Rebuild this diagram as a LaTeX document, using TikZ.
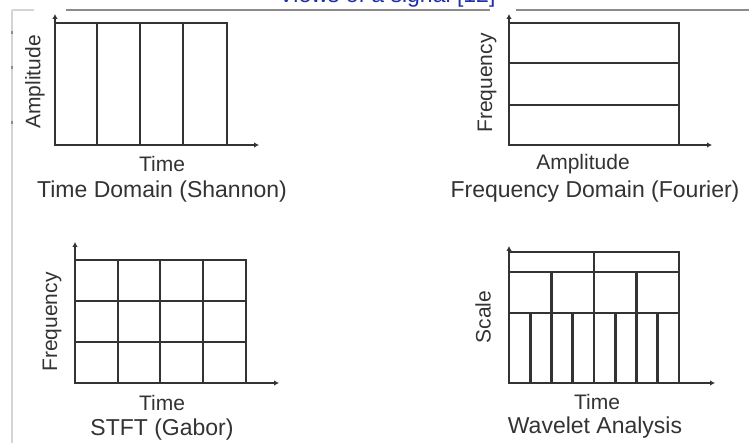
\documentclass[tikz,border=0pt]{standalone}
\usepackage{fontspec}
\setmainfont{Liberation Sans}
\usetikzlibrary{arrows.meta}
\definecolor{inkgray}{HTML}{333333}
\definecolor{titleblue}{HTML}{2030A8}
\definecolor{rulegray}{HTML}{8C8C8C}
\definecolor{edgegray}{HTML}{D4D4D4}

\begin{document}
\begin{tikzpicture}[x=1pt,y=-1pt,
  gridline/.style={line width=2.8pt, draw=inkgray},
  axisline/.style={line width=2.8pt, draw=inkgray, -{Latex[length=5pt,width=5.5pt]}},
  axislabel/.style={font=\fontsize{21}{25}\selectfont, text=inkgray, inner sep=0pt},
  captionlabel/.style={font=\fontsize{23}{27}\selectfont, text=inkgray, inner sep=0pt},
  rulepart/.style={line width=1.8pt, draw=rulegray},
  edgepart/.style={line width=1.4pt, draw=edgegray},
]
\useasboundingbox (0,0) rectangle (749,443);
\clip (0,0) rectangle (749,443);
\fill[white] (0,0) rectangle (749,443);

% page edge and running rule
\draw[edgepart] (12,10) -- (12,443);
\draw[edgepart] (12,10) -- (34,10);
\draw[rulepart] (66,10) -- (490,10);
\draw[rulepart] (516,10) -- (749,10);
\foreach \yy in {33,68,123} \draw[line width=1.6pt, draw=rulegray] (12,\yy-1.5) -- (12,\yy+1.5);

% heading, running off the top edge
\node[anchor=base, text=titleblue, font=\fontsize{23}{27}\selectfont, inner sep=0pt]
  (title) at (387,2.5) {Views of a signal [12]};

% ---------- time domain ----------
\coordinate (o1) at (55,145);
\draw[gridline] (55,23) rectangle (227,145);
\foreach \xx in {97,140,183} \draw[gridline] (\xx,23) -- (\xx,145);
\draw[axisline] (o1) -- (55,14);
\draw[axisline] (o1) -- (259,145);
\node[axislabel, rotate=90] (amp1) at (35,82) {Amplitude};
\node[axislabel, anchor=base] (time1) at (162,172) {Time};
\node[captionlabel, anchor=base] (cap1) at (162,198) {Time Domain (Shannon)};

% ---------- frequency domain ----------
\coordinate (o2) at (509,145);
\draw[gridline] (509,23) rectangle (679,145);
\foreach \yy in {63,105} \draw[gridline] (509,\yy) -- (679,\yy);
\draw[axisline] (o2) -- (509,14);
\draw[axisline] (o2) -- (712,145);
\node[axislabel, rotate=90] (freq2) at (487,83) {Frequency};
\node[axislabel, anchor=base] (amp2) at (583,170) {Amplitude};
\node[captionlabel, anchor=base] (cap2) at (595,198) {Frequency Domain (Fourier)};

% ---------- short-time Fourier transform ----------
\coordinate (o3) at (75,383);
\draw[gridline] (75,260) rectangle (246,383);
\foreach \xx in {118,160,203} \draw[gridline] (\xx,260) -- (\xx,383);
\foreach \yy in {301,342} \draw[gridline] (75,\yy) -- (246,\yy);
\draw[axisline] (o3) -- (75,242);
\draw[axisline] (o3) -- (279,383);
\node[axislabel, rotate=90] (freq3) at (52,322) {Frequency};
\node[axislabel, anchor=base] (time3) at (162,410) {Time};
\node[captionlabel, anchor=base] (cap3) at (162,435) {STFT (Gabor)};

% ---------- wavelet analysis ----------
\coordinate (o4) at (509,383);
\draw[gridline] (509,252) rectangle (679,383);
\foreach \yy in {272,313} \draw[gridline] (509,\yy) -- (679,\yy);
\draw[gridline] (594,252) -- (594,383);
\foreach \xx in {551.5,636.5} \draw[gridline] (\xx,272) -- (\xx,383);
\foreach \xx in {530.25,572.75,615.25,657.75} \draw[gridline] (\xx,313) -- (\xx,383);
\draw[axisline] (o4) -- (509,246);
\draw[axisline] (o4) -- (715,383);
\node[axislabel, rotate=90] (scale4) at (483,317) {Scale};
\node[axislabel, anchor=base] (time4) at (597,409) {Time};
\node[captionlabel, anchor=base] (cap4) at (595,433) {Wavelet Analysis};
\end{tikzpicture}
\end{document}
